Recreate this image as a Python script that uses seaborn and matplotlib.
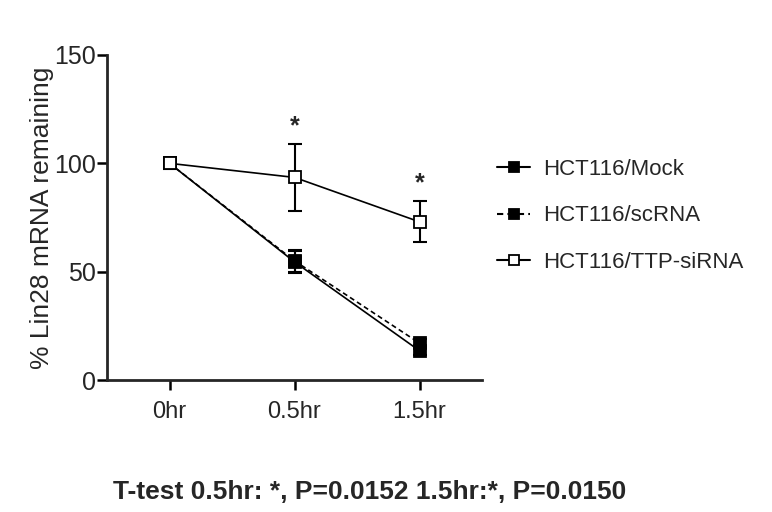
import matplotlib
matplotlib.use("Agg")
import matplotlib.pyplot as plt
import seaborn as sns
import pandas as pd
import numpy as np

sns.set_theme(style="ticks")
plt.rcParams['font.family'] = ['Liberation Sans Narrow', 'Liberation Sans', 'DejaVu Sans']

times = ["0hr", "0.5hr", "1.5hr"]
series = ["HCT116/Mock", "HCT116/scRNA", "HCT116/TTP-siRNA"]
mock_mean = [100, 54.5, 13.5]
mock_err = [2, 5, 2]
scrna_mean = [100, 55, 17]
scrna_err = [2, 5, 2]
ttp_mean = [100, 93.5, 73]
ttp_err = [2.5, 15.5, 9.5]
star_y = [None, 117, 91]

fig = plt.figure(figsize=(7.72, 5.12), dpi=100)
ax = fig.add_axes([107/772, 1-380/512, (482-107)/772, (380-55)/512])

xpos = np.arange(len(times))
styles = [
    (series[0], mock_mean, mock_err, "-", "black"),
    (series[1], scrna_mean, scrna_err, (0, (3, 2)), "black"),
    (series[2], ttp_mean, ttp_err, "-", "white"),
]
rows = []
for name, m, e, ls, fc in styles:
    for i, t in enumerate(times):
        rows.append({"x": xpos[i], "y": m[i], "err": e[i], "series": name})
df = pd.DataFrame(rows)

handles = []
for name, m, e, ls, fc in styles:
    sub = df[df.series == name]
    ax.errorbar(sub.x, sub.y, yerr=sub.err, fmt="none", ecolor="black",
                elinewidth=1.5, capsize=5, capthick=1.5, zorder=2)
    sns.lineplot(data=sub, x="x", y="y", ax=ax, color="black", linestyle=ls,
                 linewidth=1.2, marker="s", markersize=9, markerfacecolor=fc,
                 markeredgecolor="black", markeredgewidth=1.3, zorder=3,
                 errorbar=None)
    handles.append(plt.Line2D([], [], color="black", linestyle=ls, linewidth=1.5,
                              marker="s", markersize=7, markerfacecolor=fc,
                              markeredgecolor="black", markeredgewidth=1.3))

for i, sy in enumerate(star_y):
    if sy is not None:
        ax.text(xpos[i], sy, "*", ha="center", va="center", fontsize=18,
                fontweight="bold", family=['Liberation Sans', 'DejaVu Sans'])

ax.set_xlim(-0.5, 2.5)
ax.set_ylim(0, 150)
ax.set_xticks(xpos)
ax.set_xticklabels(times, fontsize=17)
ax.set_yticks([0, 50, 100, 150])
ax.set_yticklabels(["0", "50", "100", "150"], fontsize=18)
ax.set_xlabel("")
ax.set_ylabel("% Lin28 mRNA remaining", fontsize=19, labelpad=0,
              family=['Liberation Sans', 'DejaVu Sans'])
for s in ["top", "right"]:
    ax.spines[s].set_visible(False)
for s in ["left", "bottom"]:
    ax.spines[s].set_linewidth(2)
ax.tick_params(axis="both", width=1.8, length=7, color="black")
ax.tick_params(axis="x", pad=8)
ax.tick_params(axis="y", pad=1)

fig.legend(handles, series, loc="upper left", bbox_to_anchor=(488/772, 1-150/512),
           frameon=False, fontsize=16, handlelength=1.5, handletextpad=0.6,
           labelspacing=1.15, borderaxespad=0)

fig.text(370/772, 1-492/512, "T-test 0.5hr: *, P=0.0152 1.5hr:*, P=0.0150",
         ha="center", va="center", fontsize=19, fontweight="bold",
         family=['Liberation Sans', 'DejaVu Sans'])

fig.savefig("out.png", dpi=100)
